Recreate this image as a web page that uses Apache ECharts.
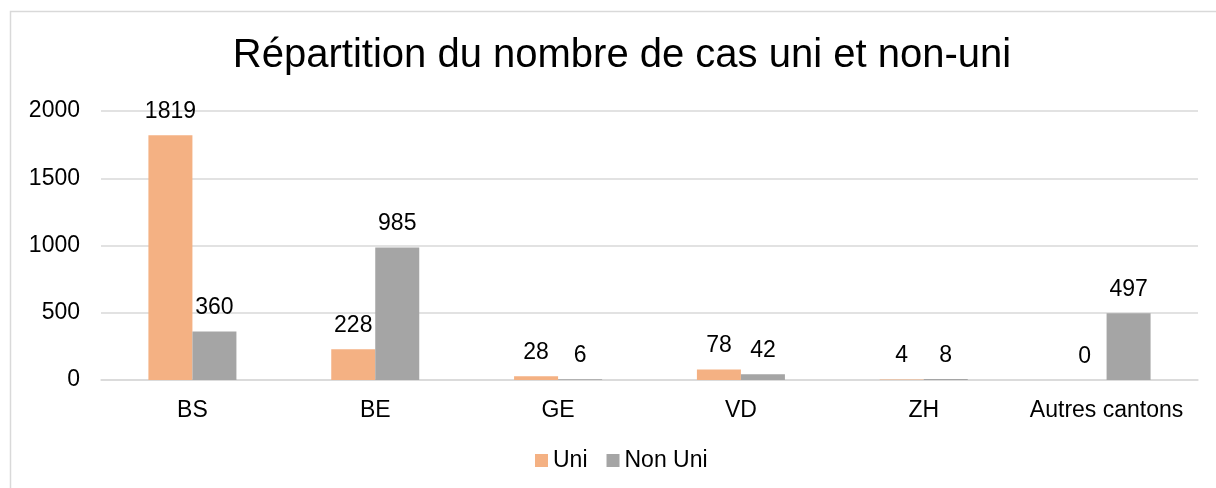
<!DOCTYPE html>
<html>
<head>
<meta charset="utf-8">
<script src="https://cdn.jsdelivr.net/npm/echarts@6/dist/echarts.min.js"></script>
<style>
  html, body { margin: 0; padding: 0; background: #fff; }
  #chart { width: 1216px; height: 488px; }
</style>
</head>
<body>
<div id="chart"></div>
<script>
  // données
  const cantons = ['BS', 'BE', 'GE', 'VD', 'ZH', 'Autres cantons']
  const uni = [1819, 228, 28, 78, 4, 0]
  const nonUni = [360, 985, 6, 42, 8, 497]
  const yTicks = { min: 0, max: 2000, interval: 500 }

  const font = 'Liberation Sans, Arial, sans-serif'
  const chart = echarts.init(document.getElementById('chart'))

  const label = {
    show: true,
    position: 'top',
    distance: 12,
    color: '#000',
    fontSize: 23,
    fontFamily: font
  }

  chart.setOption({
    animation: false,
    title: {
      text: 'Répartition du nombre de cas uni et non-uni',
      left: 617,
      top: 31,
      textAlign: 'center',
      textStyle: { fontSize: 40, fontWeight: 'normal', color: '#000', fontFamily: font }
    },
    graphic: [{
      type: 'rect',
      shape: { x: 10.5, y: 11.5, width: 1240, height: 520 },
      style: { fill: 'none', stroke: '#d9d9d9', lineWidth: 1.5 },
      silent: true
    }],
    legend: {
      bottom: 11,
      left: 530,
      itemWidth: 13,
      itemHeight: 13,
      itemGap: 19,
      icon: 'rect',
      textStyle: { fontSize: 23, color: '#000', fontFamily: font },
      data: ['Uni', 'Non Uni']
    },
    grid: { left: 101, right: 18, top: 111, bottom: 108 },
    xAxis: {
      type: 'category',
      data: cantons,
      axisTick: { show: false },
      axisLine: { lineStyle: { color: '#d9d9d9', width: 1.5 } },
      axisLabel: { color: '#000', fontSize: 23, fontFamily: font, margin: 19, interval: 0 }
    },
    yAxis: {
      type: 'value',
      min: yTicks.min,
      max: yTicks.max,
      interval: yTicks.interval,
      axisLine: { show: false },
      axisTick: { show: false },
      splitLine: { lineStyle: { color: '#d9d9d9', width: 1.5 } },
      axisLabel: { color: '#000', fontSize: 23, fontFamily: font, margin: 21, formatter: v => String(v) }
    },
    series: [
      {
        name: 'Uni',
        type: 'bar',
        data: uni,
        barWidth: 44,
        barGap: '0%',
        itemStyle: { color: '#F4B183' },
        label: label
      },
      {
        name: 'Non Uni',
        type: 'bar',
        data: nonUni,
        barWidth: 44,
        barGap: '0%',
        itemStyle: { color: '#A5A5A5' },
        label: label
      }
    ]
  })
</script>
</body>
</html>
